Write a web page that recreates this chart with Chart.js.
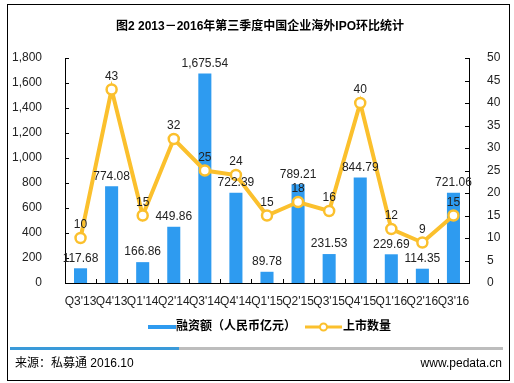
<!DOCTYPE html>
<html><head><meta charset="utf-8">
<script src="https://cdn.jsdelivr.net/npm/chart.js@4/dist/chart.umd.min.js"></script>
<style>html,body{margin:0;padding:0;background:#fff;}#wrap{position:relative;width:514px;height:383px;}canvas{display:block;}</style>
</head><body><div id="wrap"><canvas id="c" width="514" height="383"></canvas></div>
<script>
const categories = ["Q3'13","Q4'13","Q1'14","Q2'14","Q3'14","Q4'14","Q1'15","Q2'15","Q3'15","Q4'15","Q1'16","Q2'16","Q3'16"];
const amountValues = [117.68, 774.08, 166.86, 449.86, 1675.54, 722.39, 89.78, 789.21, 231.53, 844.79, 229.69, 114.35, 721.06];
const countValues = [10, 43, 15, 32, 25, 24, 15, 18, 16, 40, 12, 9, 15];
const leftTicks = [0,200,400,600,800,1000,1200,1400,1600,1800];
const rightTicks = [0,5,10,15,20,25,30,35,40,45,50];
const titleText = "图2 2013－2016年第三季度中国企业海外IPO环比统计";
const legendBar = "融资额（人民币亿元）";
const legendLine = "上市数量";
const sourceText = "来源：私募通 2016.10";
const siteText = "www.pedata.cn";

const BLUE = '#2E9BF0';
const GOLD = '#FBC02D';
const NUM_FONT = '"Liberation Sans", Arial, sans-serif';
const CJK_FONT = '"Liberation Sans", "Noto Sans CJK SC", sans-serif';

const decor = {
  id: 'decor',
  beforeDraw(chart) {
    const ctx = chart.ctx;
    ctx.save();
    ctx.fillStyle = '#fff';
    ctx.fillRect(0,0,chart.width,chart.height);
    ctx.strokeStyle = '#000'; ctx.lineWidth = 1;
    ctx.strokeRect(7.5, 4.5, 502, 376);
    ctx.fillStyle = '#000';
    ctx.font = 'bold 12px ' + CJK_FONT;
    ctx.textAlign = 'center'; ctx.textBaseline = 'middle';
    ctx.fillText(titleText, 260, 27);
    // legend
    ctx.fillStyle = BLUE; ctx.fillRect(148, 325, 28, 4);
    ctx.fillStyle = '#000'; ctx.textAlign = 'left';
    ctx.font = 'bold 12px ' + CJK_FONT;
    ctx.fillText(legendBar, 176, 327);
    ctx.strokeStyle = GOLD; ctx.lineWidth = 3;
    ctx.beginPath(); ctx.moveTo(305, 327); ctx.lineTo(342, 327); ctx.stroke();
    ctx.fillStyle = '#fff'; ctx.lineWidth = 2;
    ctx.beginPath(); ctx.arc(323.5, 327, 3.5, 0, Math.PI*2); ctx.fill(); ctx.stroke();
    ctx.fillStyle = '#000';
    ctx.fillText(legendLine, 343, 327);
    // separator
    ctx.fillStyle = '#BDBDBD'; ctx.fillRect(10, 347, 493, 3);
    ctx.fillStyle = '#3A9AD9'; ctx.fillRect(10, 347, 169, 3);
    // footer
    ctx.fillStyle = '#000';
    ctx.font = '12px ' + CJK_FONT;
    ctx.textAlign = 'left';
    ctx.fillText(sourceText, 15, 364);
    ctx.textAlign = 'right';
    ctx.fillText(siteText, 502, 364);
    ctx.restore();
  },
  afterDatasetsDraw(chart) {
    const ctx = chart.ctx;
    const a = chart.chartArea;
    ctx.save();
    ctx.strokeStyle = '#000'; ctx.lineWidth = 1;
    const yl = chart.scales.y, yr = chart.scales.y1, x = chart.scales.x;
    ctx.beginPath();
    leftTicks.forEach(v => { const py = Math.round(yl.getPixelForValue(v)) + 0.5; ctx.moveTo(a.left, py); ctx.lineTo(a.left + 4, py); });
    rightTicks.forEach(v => { const py = Math.round(yr.getPixelForValue(v)) + 0.5; ctx.moveTo(a.right, py); ctx.lineTo(a.right - 4, py); });
    for (let i = 1; i < categories.length; i++) {
      const px = Math.round((x.getPixelForValue(i-1) + x.getPixelForValue(i)) / 2) + 0.5;
      ctx.moveTo(px, a.bottom); ctx.lineTo(px, a.bottom - 4);
    }
    ctx.stroke();
    ctx.fillStyle = '#222';
    ctx.font = '12px ' + NUM_FONT;
    ctx.textAlign = 'center'; ctx.textBaseline = 'bottom';
    const barMeta = chart.getDatasetMeta(1);
    barMeta.data.forEach((el, i) => {
      const t = amountValues[i].toLocaleString('en-US', {minimumFractionDigits: 2, maximumFractionDigits: 2});
      ctx.fillText(t, el.x, el.y - 4);
    });
    const lineMeta = chart.getDatasetMeta(0);
    lineMeta.data.forEach((el, i) => {
      ctx.fillText(String(countValues[i]), el.x, el.y - 7);
    });
    ctx.restore();
  }
};

new Chart(document.getElementById('c'), {
  data: {
    labels: categories,
    datasets: [
      { type: 'line', label: legendLine, data: countValues, yAxisID: 'y1', order: 0,
        borderColor: GOLD, borderWidth: 4, backgroundColor: '#fff',
        pointRadius: 5, pointBorderWidth: 2.5, pointBackgroundColor: '#fff', pointBorderColor: GOLD,
        tension: 0, fill: false },
      { type: 'bar', label: legendBar, data: amountValues, yAxisID: 'y', order: 1,
        backgroundColor: BLUE, barPercentage: 0.42, categoryPercentage: 1.0 }
    ]
  },
  options: {
    responsive: false, animation: false, devicePixelRatio: 1,
    layout: { padding: { left: 0, right: 0, top: 58, bottom: 0 } },
    plugins: { legend: { display: false }, title: { display: false }, tooltip: { enabled: false } },
    scales: {
      x: {
        grid: { display: false },
        border: { display: true, color: '#000', width: 1 },
        ticks: { autoSkip: false, maxRotation: 0, minRotation: 0, color: '#222', font: { family: NUM_FONT, size: 12 }, padding: 3 },
        afterFit: s => { s.height = 100; }
      },
      y: {
        position: 'left', min: 0, max: 1800,
        afterBuildTicks: s => { s.ticks = leftTicks.map(v => ({ value: v })); },
        grid: { display: false },
        border: { display: true, color: '#000', width: 1 },
        ticks: { color: '#222', font: { family: NUM_FONT, size: 12 }, padding: 15,
          callback: v => v.toLocaleString('en-US') },
        afterFit: s => { s.width = 65; }
      },
      y1: {
        position: 'right', min: 0, max: 50,
        afterBuildTicks: s => { s.ticks = rightTicks.map(v => ({ value: v })); },
        grid: { display: false },
        border: { display: true, color: '#000', width: 1 },
        ticks: { color: '#222', font: { family: NUM_FONT, size: 12 }, padding: 10 },
        afterFit: s => { s.width = 45; }
      }
    }
  },
  plugins: [decor]
});
</script></body></html>
